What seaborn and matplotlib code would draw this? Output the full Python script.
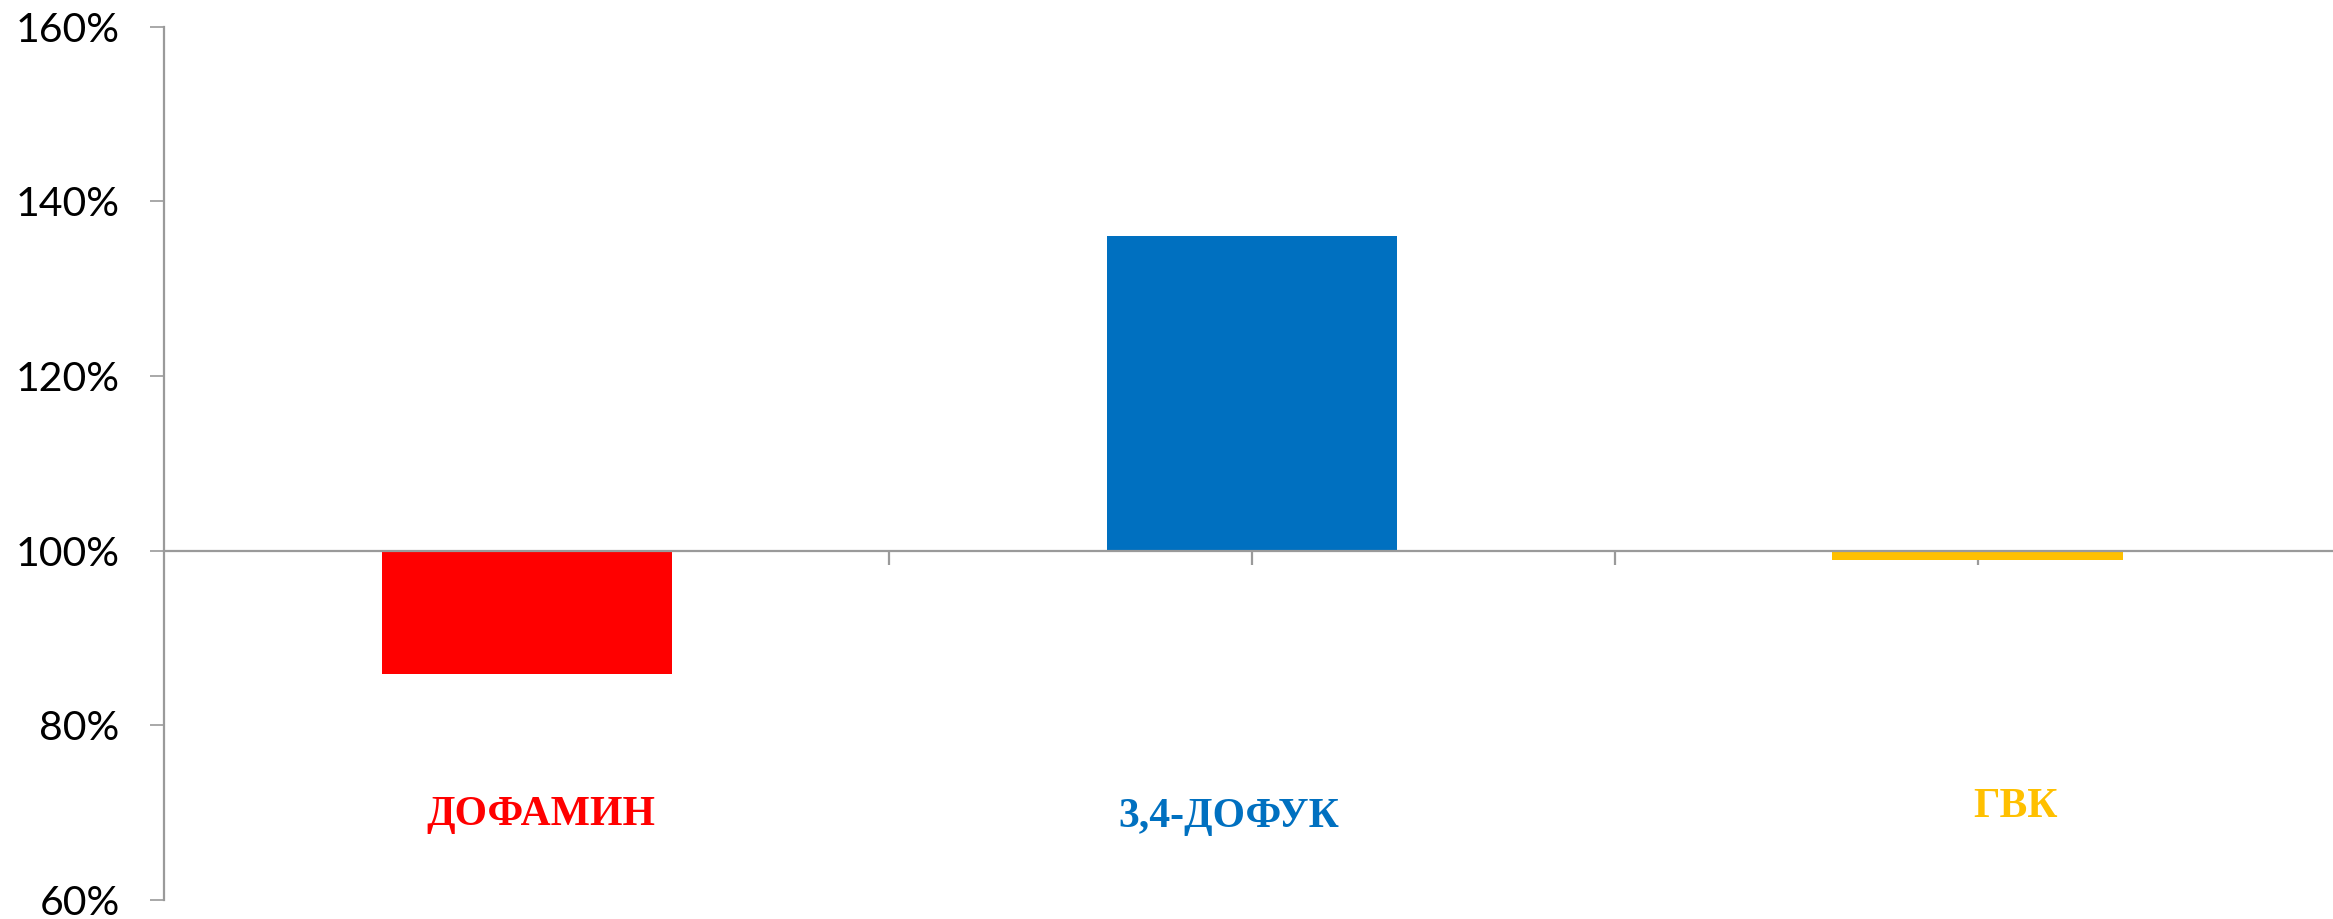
import matplotlib
matplotlib.use("Agg")
import matplotlib.pyplot as plt
import matplotlib.ticker as mticker
import numpy as np
import pandas as pd
import seaborn as sns

# Relative level of each compound (1.0 = 100 % baseline)
categories = ["ДОФАМИН", "3,4-ДОФУК", "ГВК"]
values = [0.859, 1.36, 0.989]
colors = ["#FF0000", "#0070C0", "#FFC000"]
y_ticks = [0.6, 0.8, 1.0, 1.2, 1.4, 1.6]

baseline = 1.0
df = pd.DataFrame({"compound": categories, "value": values})
df["change"] = df["value"] - baseline

sns.set_style("white")
plt.rcParams["font.family"] = ["Lato", "DejaVu Sans"]

fig = plt.figure(figsize=(23.33, 9.19), dpi=100)
ax = fig.add_axes([0.0703, 0.0207, 0.9297, 0.9501])

# bars grow up or down from the 100 % line
sns.barplot(data=df, x="compound", y="change", hue="compound",
            palette=colors, order=categories, hue_order=categories,
            width=0.4, legend=False, ax=ax, bottom=baseline,
            linewidth=0, saturation=1)

ax.set_xlim(-0.5, 2.49)
ax.set_ylim(0.6, 1.6)
ax.set_yticks(y_ticks)
ax.yaxis.set_major_formatter(mticker.FuncFormatter(lambda v, _: f"{v * 100:.0f}%"))
ax.set_xticks([0, 0.5, 1, 1.5, 2])
ax.set_xticklabels([])
ax.set_xlabel("")
ax.set_ylabel("")

axis_grey = "#9A9A9A"
for side in ["top", "right"]:
    ax.spines[side].set_visible(False)
ax.spines["bottom"].set_position(("data", baseline))
ax.spines["bottom"].set_color(axis_grey)
ax.spines["bottom"].set_linewidth(1.6)
ax.spines["left"].set_color(axis_grey)
ax.spines["left"].set_linewidth(1.6)
ax.spines["left"].set_zorder(0)
ax.spines["bottom"].set_zorder(3)

ax.tick_params(axis="y", direction="out", length=10, width=1.2, color=axis_grey,
               pad=22, labelsize=29.5, labelcolor="black", left=True)
ax.tick_params(axis="x", direction="out", length=10, width=1.6, color=axis_grey,
               bottom=True)

# category captions under the bars
label_pos = [(0.019, 0.686), (0.968, 0.684), (2.053, 0.695)]
for name, color, (lx, ly) in zip(categories, colors, label_pos):
    ax.text(lx, ly, name, color=color, ha="center", va="baseline",
            fontsize=30, fontweight="bold", family="Liberation Serif")

fig.savefig("out.png", dpi=100)
